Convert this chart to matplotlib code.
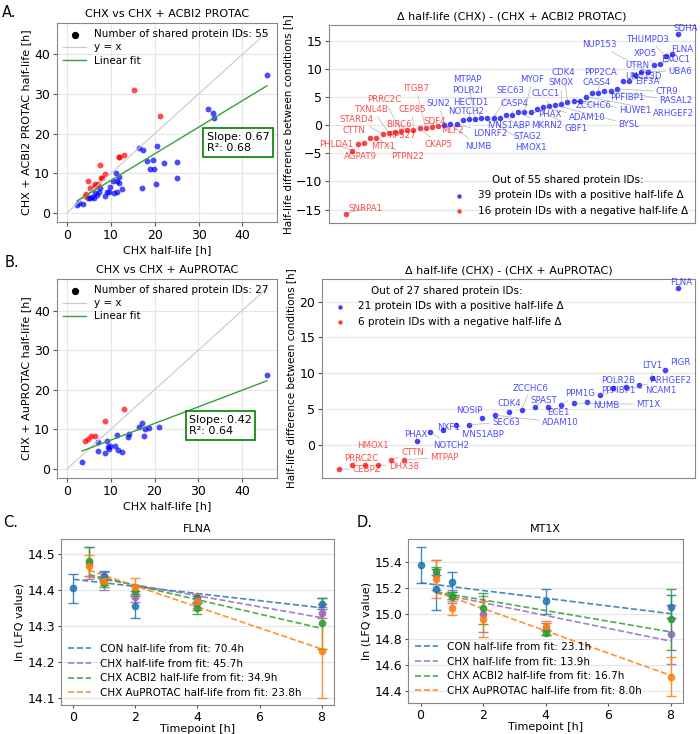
import numpy as np
import matplotlib.pyplot as plt
from matplotlib.ticker import MultipleLocator

# ---- panel A: CHX vs CHX + ACBI2 PROTAC (ordered by half-life delta) ----
acbi2_names = ['SNRPA1', 'PHLDA1', 'AGPAT9', 'MTX1', 'CTTN', 'PTPN22', 'STARD4', 'TXNL4B',
               'RPS27', 'PRRC2C', 'BIRC6', 'CEP85', 'CKAP5', 'ITGB7', 'SDF4', 'MLF2',
               'SUN2', 'NUMB', 'LONRF2', 'NOTCH2', 'HECTD1', 'MTPAP', 'POLR2I', 'HMOX1',
               'SEC63', 'IVNS1ABP', 'STAG2', 'CASP4', 'MKRN2', 'MYOF', 'PHAX', 'GBF1',
               'ADAM10', 'CLCC1', 'BYSL', 'SMOX', 'CDK4', 'ZCCHC6', 'HUWE1', 'ARHGEF2',
               'CASS4', 'PPP2CA', 'PPFIBP1', 'RASAL2', 'CTR9', 'EIF3A', 'UNC13D', 'UTRN',
               'UBA6', 'NUP153', 'XPO5', 'EXOC1', 'THUMPD3', 'FLNA', 'SDHA']
acbi2_chx = [15.2, 7.6, 21.1, 4.9, 11.8, 11.9, 13.0, 8.6, 5.3, 7.7, 6.4, 8.0, 6.3, 4.3, 4.1, 7.0,
             16.4, 2.3, 2.8, 4.7, 7.5, 11.2, 3.6, 6.4, 17.4, 5.3, 5.8, 7.3, 6.1, 10.4, 6.9, 11.9,
             9.9, 11.5, 20.6, 9.1, 9.5, 8.7, 11.9, 18.3, 10.7, 32.1, 11.3, 19.6, 12.6, 33.2, 18.9,
             19.9, 33.6, 22.1, 45.6, 17.1, 25.1, 20.2, 25.1]
acbi2_protac = [31.0, 12.1, 24.5, 8.1, 14.0, 14.1, 14.5, 9.9, 6.4, 8.7, 7.3, 8.8, 6.8, 4.8, 4.4, 7.2,
                16.3, 2.1, 2.5, 3.8, 6.4, 10.0, 2.3, 5.0, 16.0, 3.9, 4.0, 5.4, 3.8, 8.0, 4.5, 9.0,
                6.6, 8.1, 17.0, 5.3, 5.3, 4.4, 7.5, 13.2, 5.0, 26.3, 5.2, 13.4, 6.1, 25.3, 11.0,
                11.0, 24.0, 12.5, 34.8, 6.2, 12.8, 7.4, 8.8]
acbi2_slope, acbi2_r2 = 0.67, 0.68

# ---- panel B: CHX vs CHX + AuPROTAC ----
au_names = ['CEBPZ', 'PRRC2C', 'HMOX1', 'DHX38', 'CTTN', 'MTPAP', 'PHAX', 'NOTCH2', 'NXF1',
            'IVNS1ABP', 'SEC63', 'NOSIP', 'ADAM10', 'CDK4', 'ZCCHC6', 'SPAST', 'ECE1', 'PPM1G',
            'MT1X', 'NUMB', 'PPFIBP1', 'POLR2B', 'NCAM1', 'ARHGEF2', 'LTV1', 'PIGR', 'FLNA']
au_chx = [8.7, 4.1, 4.7, 5.4, 6.3, 13.1, 7.2, 3.4, 9.2, 7.2, 11.4, 9.3, 9.9, 9.6, 8.8, 11.0,
          14.2, 17.2, 13.9, 16.4, 11.6, 17.9, 12.5, 18.7, 17.6, 21.1, 45.7]
au_protac = [12.1, 7.0, 7.5, 8.2, 8.4, 15.2, 6.7, 1.7, 7.1, 4.5, 8.6, 5.6, 5.8, 5.0, 3.9, 5.7,
             8.9, 11.6, 8.1, 10.5, 4.7, 10.0, 4.4, 10.4, 8.3, 10.6, 23.8]
au_slope, au_r2 = 0.42, 0.64

# ---- panels C / D: ln(LFQ) time courses ----
conditions = ['CON', 'CHX', 'CHX ACBI2', 'CHX AuPROTAC']
cond_colors = ['tab:blue', 'tab:purple', 'tab:green', 'tab:orange']
flna_t = [[0, 1, 2, 4, 8], [0.5, 1, 2, 4, 8], [0.5, 1, 2, 4, 8], [0.5, 1, 2, 4, 8]]
flna_mean = [[14.405, 14.440, 14.355, 14.378, 14.363],
             [14.475, 14.425, 14.382, 14.365, 14.338],
             [14.480, 14.420, 14.398, 14.350, 14.308],
             [14.468, 14.424, 14.410, 14.370, 14.232]]
flna_err = [[0.041, 0.012, 0.033, 0.012, 0.015],
            [0.045, 0.025, 0.015, 0.020, 0.015],
            [0.040, 0.012, 0.015, 0.015, 0.070],
            [0.030, 0.010, 0.025, 0.020, 0.130]]
flna_half_life = [70.4, 45.7, 34.9, 23.8]
flna_intercept = [14.430, 14.445, 14.453, 14.470]

mt1x_t = [[0, 0.5, 1, 4, 8], [0.5, 1, 2, 4, 8], [0.5, 1, 2, 4, 8], [0.5, 1, 2, 4, 8]]
mt1x_mean = [[15.38, 15.19, 15.245, 15.095, 15.055],
             [15.30, 15.13, 14.995, 14.88, 14.84],
             [15.33, 15.14, 15.04, 14.85, 14.955],
             [15.27, 15.045, 14.96, 14.905, 14.51]]
mt1x_err = [[0.14, 0.16, 0.08, 0.10, 0.09],
            [0.12, 0.05, 0.14, 0.05, 0.23],
            [0.03, 0.03, 0.12, 0.02, 0.24],
            [0.15, 0.055, 0.14, 0.04, 0.15]]
mt1x_half_life = [23.1, 13.9, 16.7, 8.0]
mt1x_intercept = [15.24, 15.185, 15.19, 15.213]

# label placement for the delta panels (x = rank, y = delta)
label_pos_a = {
    'SNRPA1': (3.2, -14.8), 'PHLDA1': (-1.6, -3.4), 'AGPAT9': (2.4, -5.5), 'MTX1': (6.1, -3.7),
    'PTPN22': (10.0, -5.6), 'CTTN': (1.4, -1.0), 'STARD4': (1.8, 1.0), 'TXNL4B': (4.3, 2.8),
    'PRRC2C': (6.2, 4.7), 'BIRC6': (8.6, 0.1), 'RPS27': (9.2, -1.8), 'CEP85': (10.8, 2.9),
    'CKAP5': (15.1, -3.4), 'ITGB7': (11.4, 6.6), 'SDF4': (14.4, 0.7), 'MLF2': (17.3, -0.9),
    'SUN2': (15.1, 3.9), 'NUMB': (21.6, -3.7), 'LONRF2': (23.5, -1.5), 'NOTCH2': (19.5, 2.5),
    'HECTD1': (20.3, 4.1), 'MTPAP': (19.8, 8.2), 'POLR2I': (19.7, 6.3), 'HMOX1': (30.1, -3.9),
    'SEC63': (26.8, 6.2), 'IVNS1ABP': (26.5, 0.0), 'STAG2': (29.5, -1.9), 'CASP4': (27.4, 3.9),
    'MKRN2': (32.7, 0.0), 'MYOF': (30.3, 8.2), 'PHAX': (33.2, 2.0), 'GBF1': (37.4, -0.6),
    'ADAM10': (39.2, 1.4), 'CLCC1': (32.4, 5.7), 'BYSL': (45.9, 0.2), 'SMOX': (35.0, 7.6),
    'CDK4': (35.4, 9.5), 'ZCCHC6': (40.3, 3.5), 'HUWE1': (47.0, 2.6), 'ARHGEF2': (53.2, 2.2),
    'CASS4': (40.8, 7.6), 'PPP2CA': (41.4, 9.4), 'PPFIBP1': (45.7, 5.0), 'RASAL2': (53.5, 4.4),
    'CTR9': (52.2, 6.0), 'EIF3A': (48.9, 7.8), 'UNC13D': (48.4, 8.8), 'UTRN': (47.3, 10.7),
    'UBA6': (54.3, 9.6), 'NUP153': (41.1, 14.4), 'XPO5': (48.6, 12.9), 'EXOC1': (53.6, 11.8),
    'THUMPD3': (49.2, 15.4), 'FLNA': (54.6, 13.6), 'SDHA': (55.1, 17.2)}
label_pos_b = {
    'HMOX1': (2.6, -0.1), 'PRRC2C': (1.7, -2.0), 'CEBPZ': (2.1, -3.5), 'DHX38': (5.0, -3.1),
    'CTTN': (5.7, -1.1), 'MTPAP': (8.1, -1.8), 'PHAX': (5.9, 1.35), 'NOTCH2': (8.6, -0.1),
    'NXF1': (8.4, 2.4), 'IVNS1ABP': (11.0, 1.45), 'NOSIP': (10.0, 4.75), 'SEC63': (12.8, 3.1),
    'ADAM10': (17.0, 3.1), 'CDK4': (13.1, 5.7), 'ZCCHC6': (14.7, 7.9), 'SPAST': (15.7, 6.15),
    'ECE1': (16.85, 4.5), 'PPM1G': (18.5, 7.2), 'NUMB': (20.5, 5.45), 'MT1X': (23.7, 5.64),
    'PPFIBP1': (21.4, 7.55), 'POLR2B': (21.4, 9.0), 'NCAM1': (24.7, 7.55), 'ARHGEF2': (25.5, 8.95),
    'LTV1': (24.0, 11.1), 'PIGR': (26.2, 11.5), 'FLNA': (26.25, 22.65)}

FS = 8
plt.rcParams['font.size'] = FS
plt.rcParams['xtick.labelsize'] = 9
plt.rcParams['ytick.labelsize'] = 9
plt.rcParams['axes.edgecolor'] = '#888888'
plt.rcParams['xtick.color'] = '#555555'
plt.rcParams['ytick.color'] = '#555555'
plt.rcParams['xtick.labelcolor'] = 'black'
plt.rcParams['ytick.labelcolor'] = 'black'
plt.rcParams['grid.color'] = '#e6e6e6'
plt.rcParams['grid.linewidth'] = 0.8


def scatter_panel(ax, chx, protac, slope, r2, title, ylabel, box_xy):
    chx = np.array(chx)
    protac = np.array(protac)
    up = protac > chx
    ax.grid(True)
    ax.set_axisbelow(True)
    lim = chx.max()
    ax.plot([0, lim], [0, lim], color='#c8c8c8', lw=0.8, label='y = x')
    x_fit = np.array([chx.min(), chx.max()])
    intercept = protac.mean() - slope * chx.mean()
    ax.plot(x_fit, intercept + slope * x_fit, color='#3a9e3a', lw=1.0, label='Linear fit')
    ax.scatter(chx[~up], protac[~up], s=18, color='blue', alpha=0.7, lw=0)
    ax.scatter(chx[up], protac[up], s=18, color='red', alpha=0.7, lw=0)
    ax.scatter([], [], s=18, color='black',
               label=f'Number of shared protein IDs: {len(chx)}')
    h, l = ax.get_legend_handles_labels()
    ax.legend([h[2], h[0], h[1]], [l[2], l[0], l[1]], loc='upper left', frameon=False,
              fontsize=7.5, handlelength=2.2, borderaxespad=0.2, labelspacing=0.3)
    ax.text(box_xy[0], box_xy[1], f'Slope: {slope:.2f}\nR²: {r2:.2f}', transform=ax.transAxes,
            fontsize=FS, va='bottom', ha='left',
            bbox=dict(boxstyle='square,pad=0.3', fc='white', ec='green', lw=1.2))
    ax.xaxis.set_major_locator(MultipleLocator(10))
    ax.yaxis.set_major_locator(MultipleLocator(10))
    ax.set_title(title, fontsize=FS, pad=4)
    ax.set_xlabel('CHX half-life [h]', labelpad=2)
    ax.set_ylabel(ylabel, labelpad=2)
    ax.tick_params(length=3, pad=2)


def delta_panel(ax, names, chx, protac, title, label_pos, legend_loc):
    delta = np.round(np.array(chx) - np.array(protac), 2)
    order = np.argsort(delta, kind='stable')
    delta = delta[order]
    names = [names[i] for i in order]
    idx = np.arange(len(delta))
    pos = delta > 0
    ax.grid(True, axis='y')
    ax.set_axisbelow(True)
    ax.scatter(idx[pos], delta[pos], s=16, color='blue', alpha=0.75, lw=0,
               label=f'{pos.sum()} protein IDs with a positive half-life Δ')
    ax.scatter(idx[~pos], delta[~pos], s=16, color='red', alpha=0.75, lw=0,
               label=f'{(~pos).sum()} protein IDs with a negative half-life Δ')
    for i, (n, d) in enumerate(zip(names, delta)):
        c = 'blue' if d > 0 else 'red'
        ax.annotate(n, xy=(i, d), xytext=label_pos[n], ha='center', va='center',
                    fontsize=6.2, color=c, alpha=0.7,
                    arrowprops=dict(arrowstyle='-', color='gray', lw=0.5, alpha=0.6,
                                    shrinkA=0, shrinkB=0))
    ax.legend(loc=legend_loc, frameon=False, fontsize=7.5, markerscale=0.8,
              title=f'Out of {len(delta)} shared protein IDs:', title_fontsize=7.5,
              handletextpad=0.8, borderaxespad=0.3)
    ax.set_xticks([])
    ax.yaxis.set_major_locator(MultipleLocator(5))
    ax.set_title(title, fontsize=FS, pad=4)
    ax.set_ylabel('Half-life difference between conditions [h]', fontsize=7.5, labelpad=2)
    ax.tick_params(length=3, pad=2)


def timecourse_panel(ax, title, ts, means, errs, half_lives, intercepts, ystep):
    ax.grid(True, axis='y')
    ax.set_axisbelow(True)
    for k in range(len(conditions)):
        t = np.array(ts[k])
        c = cond_colors[k]
        ax.errorbar(t, means[k], yerr=errs[k], fmt='o', color=c, ms=4.5, capsize=3.5,
                    elinewidth=1.0, ecolor=c, alpha=0.85)
        rate = np.log(2) / half_lives[k]
        tt = np.array([t.min(), t.max()])
        ax.plot(tt, intercepts[k] - rate * tt, '--', color=c, lw=1.2, alpha=0.85,
                label=f'{conditions[k]} half-life from fit: {half_lives[k]:.1f}h')
    ax.legend(loc='lower left', frameon=False, fontsize=7.5, handlelength=2.2,
              labelspacing=0.45, borderaxespad=0.3)
    ax.set_xticks([0, 2, 4, 6, 8])
    ax.yaxis.set_major_locator(MultipleLocator(ystep))
    ax.set_title(title, fontsize=FS, pad=5)
    ax.set_xlabel('Timepoint [h]', labelpad=0)
    ax.set_ylabel('ln (LFQ value)', labelpad=2)
    ax.tick_params(length=2.5, pad=1.5)


fig = plt.figure(figsize=(7.0, 7.34), dpi=100)

ax_a1 = fig.add_axes([0.0814, 0.6975, 0.3143, 0.2711])
ax_a2 = fig.add_axes([0.470, 0.6962, 0.5229, 0.2698])
ax_b1 = fig.add_axes([0.0814, 0.3488, 0.3143, 0.2711])
ax_b2 = fig.add_axes([0.460, 0.3488, 0.5329, 0.2711])
ax_c = fig.add_axes([0.0871, 0.0391, 0.3900, 0.2262])
ax_d = fig.add_axes([0.5829, 0.0418, 0.3929, 0.2234])

scatter_panel(ax_a1, acbi2_chx, acbi2_protac, acbi2_slope, acbi2_r2,
              'CHX vs CHX + ACBI2 PROTAC', 'CHX + ACBI2 PROTAC half-life [h]', (0.68, 0.345))
delta_panel(ax_a2, acbi2_names, acbi2_chx, acbi2_protac,
            'Δ half-life (CHX) - (CHX + ACBI2 PROTAC)', label_pos_a, 'lower right')
scatter_panel(ax_b1, au_chx, au_protac, au_slope, au_r2,
              'CHX vs CHX + AuPROTAC', 'CHX + AuPROTAC half-life [h]', (0.6, 0.21))
delta_panel(ax_b2, au_names, au_chx, au_protac,
            'Δ half-life (CHX) - (CHX + AuPROTAC)', label_pos_b, 'upper left')
timecourse_panel(ax_c, 'FLNA', flna_t, flna_mean, flna_err, flna_half_life, flna_intercept, 0.1)
timecourse_panel(ax_d, 'MT1X', mt1x_t, mt1x_mean, mt1x_err, mt1x_half_life, mt1x_intercept, 0.2)

fig.text(0.003, 0.993, 'A.', fontsize=10.5, va='top')
fig.text(0.007, 0.652, 'B.', fontsize=10.5, va='top')
fig.text(0.004, 0.298, 'C.', fontsize=10.5, va='top')
fig.text(0.510, 0.298, 'D.', fontsize=10.5, va='top')

fig.savefig('out.png', dpi=100)
